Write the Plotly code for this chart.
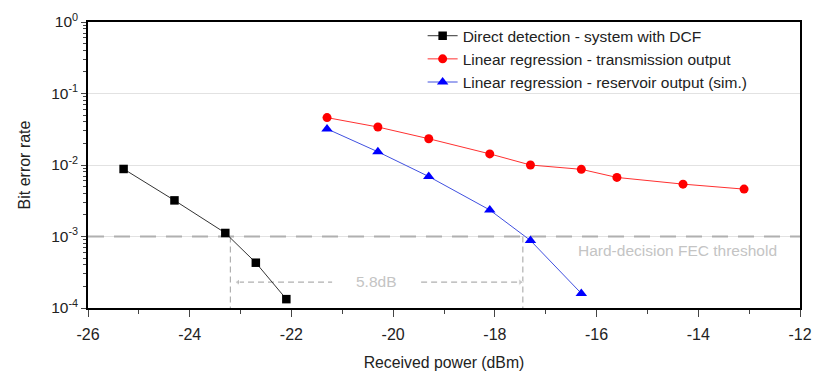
import plotly.graph_objects as go

# Data
dd_x = [-25.3, -24.3, -23.3, -22.7, -22.1]
dd_y = [8.8e-3, 3.2e-3, 1.12e-3, 4.3e-4, 1.33e-4]

tx_x = [-21.3, -20.3, -19.3, -18.1, -17.3, -16.3, -15.6, -14.3, -13.1]
tx_y = [0.046, 0.034, 0.0233, 0.0143, 0.0100, 0.0087, 0.0067, 0.0054, 0.0046]

rs_x = [-21.3, -20.3, -19.3, -18.1, -17.3, -16.3]
rs_y = [0.032, 0.0153, 0.0069, 0.00235, 8.8e-4, 1.6e-4]

series_names = ["Direct detection - system with DCF",
                "Linear regression - transmission output",
                "Linear regression - reservoir output (sim.)"]

fec_threshold = 1e-3
fec_label = "Hard-decision FEC threshold"
gap_left_x = -23.2
gap_right_x = -17.45
gap_label = "5.8dB"
arrow_y = 2.3e-4

x_tickvals = [-26, -24, -22, -20, -18, -16, -14, -12]
x_ticktext = ["-26", "-24", "-22", "-20", "-18", "-16", "-14", "-12"]
y_tickvals = [1e-4, 1e-3, 1e-2, 1e-1, 1]
y_ticktext = ["10<sup>-4</sup>", "10<sup>-3</sup>", "10<sup>-2</sup>", "10<sup>-1</sup>", "10<sup>0</sup>"]
y_minor = [m * 10.0 ** e for e in range(-4, 0) for m in range(2, 10)]

GRAY = "#b0b0b0"
FONT = "Liberation Sans, Arial, sans-serif"

fig = go.Figure()

# FEC threshold line
fig.add_trace(go.Scatter(x=[-26, -12], y=[fec_threshold, fec_threshold], mode="lines",
                         line=dict(color=GRAY, width=2, dash="16px,10px"),
                         showlegend=False, hoverinfo="skip"))
# vertical dashed drops
for gx in (gap_left_x, gap_right_x):
    fig.add_trace(go.Scatter(x=[gx, gx], y=[fec_threshold, 1e-4], mode="lines",
                             line=dict(color=GRAY, width=1.2, dash="6px,4px"),
                             showlegend=False, hoverinfo="skip"))
# arrows
fig.add_trace(go.Scatter(x=[-23.05, -21.2], y=[arrow_y, arrow_y], mode="lines+markers",
                         line=dict(color=GRAY, width=1.2, dash="6px,4px"),
                         marker=dict(symbol="triangle-left", size=[6, 0], color=GRAY),
                         showlegend=False, hoverinfo="skip"))
fig.add_trace(go.Scatter(x=[-19.45, -17.5], y=[arrow_y, arrow_y], mode="lines+markers",
                         line=dict(color=GRAY, width=1.2, dash="6px,4px"),
                         marker=dict(symbol="triangle-right", size=[0, 6], color=GRAY),
                         showlegend=False, hoverinfo="skip"))

fig.add_trace(go.Scatter(x=dd_x, y=dd_y, name=series_names[0], mode="lines+markers",
                         line=dict(color="#333333", width=1),
                         marker=dict(symbol="square", size=8.5, color="#000000")))
fig.add_trace(go.Scatter(x=tx_x, y=tx_y, name=series_names[1], mode="lines+markers",
                         line=dict(color="#ff3030", width=1),
                         marker=dict(symbol="circle", size=9, color="#ff0000")))
fig.add_trace(go.Scatter(x=rs_x, y=rs_y, name=series_names[2], mode="lines+markers",
                         line=dict(color="#4050e0", width=1),
                         marker=dict(symbol="triangle-up", size=10, color="#0000ff")))

fig.add_annotation(x=-12.42, y=-3.2, xref="x", yref="y", text=fec_label, showarrow=False,
                   xanchor="right", yanchor="middle", font=dict(size=15.5, color="#c4c4c4", family=FONT))
fig.add_annotation(x=-20.32, y=-3.63, xref="x", yref="y", text=gap_label, showarrow=False,
                   xanchor="center", yanchor="middle", font=dict(size=15.5, color="#c4c4c4", family=FONT))

fig.update_layout(
    width=815, height=371,
    margin=dict(l=88, r=15, t=22, b=63),
    paper_bgcolor="white", plot_bgcolor="white",
    font=dict(family=FONT, size=15, color="#222222"),
    legend=dict(x=0.470, y=1.01, xanchor="left", yanchor="top",
                bgcolor="rgba(0,0,0,0)", font=dict(size=15.5, color="#222222"),
                tracegroupgap=0, itemwidth=30),
    xaxis=dict(range=[-26, -12], tickvals=x_tickvals, ticktext=x_ticktext,
               ticks="outside", ticklen=7, ticklabelstandoff=4, automargin=False,
               showline=True, linecolor="#000000", linewidth=1.5, mirror=True,
               showgrid=False, zeroline=False,
               minor=dict(dtick=1, tick0=-26, ticks="outside", ticklen=4, showgrid=False),
               title=dict(text="Received power (dBm)", standoff=15, font=dict(size=15.8)),
               tickfont=dict(size=16)),
    yaxis=dict(type="log", range=[-4, 0], tickvals=y_tickvals, ticktext=y_ticktext,
               ticks="outside", ticklen=5, showline=True, linecolor="#000000", linewidth=1.5,
               mirror=True, showgrid=True, gridcolor="#e2e2e2", gridwidth=1, zeroline=False,
               automargin=False,
               minor=dict(tickvals=y_minor, ticks="outside", ticklen=3, showgrid=False),
               title=dict(text="Bit error rate", standoff=17, font=dict(size=16)),
               tickfont=dict(size=15.5)),
)

fig.write_html("out.html")
